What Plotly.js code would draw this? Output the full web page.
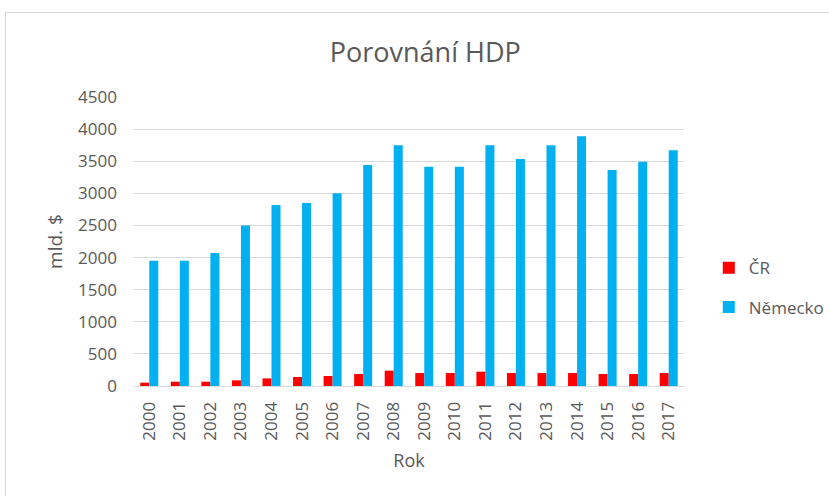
<!DOCTYPE html>
<html>
<head>
<meta charset="utf-8">
<script src="https://cdn.plot.ly/plotly-3.0.1.min.js"></script>
<style>
html,body{margin:0;padding:0;background:#fff;}
#frame{position:absolute;left:5px;top:12px;width:840px;height:500px;border:1px solid #d9d9d9;box-sizing:border-box;}
#chart{position:absolute;left:0;top:0;width:829px;height:496px;}
</style>
</head>
<body>
<div id="frame"></div>
<div id="chart"></div>
<script>
const years = ["2000","2001","2002","2003","2004","2005","2006","2007","2008","2009","2010","2011","2012","2013","2014","2015","2016","2017"];
const cr = [52,67,67,88,119,140,156,187,239,202,202,223,202,202,202,187,187,202];
const nemecko = [1950,1950,2070,2500,2820,2850,3000,3440,3750,3415,3415,3750,3535,3750,3890,3365,3490,3670];
const yTicks = [0,500,1000,1500,2000,2500,3000,3500,4000,4500];

const fontFam = "Open Sans, Liberation Sans, sans-serif";
const data = [
  {type:"bar", name:"ČR", x:years, y:cr, marker:{color:"#FF0000"}, legendgroup:"a"},
  {type:"bar", name:"Německo", x:years, y:nemecko, marker:{color:"#00B0F0"}, legendgroup:"b"}
];
const layout = {
  width:829, height:496,
  paper_bgcolor:"rgba(0,0,0,0)", plot_bgcolor:"rgba(0,0,0,0)",
  margin:{l:134, r:145, t:97, b:110, autoexpand:false},
  barmode:"group", bargap:0.41, bargroupgap:0,
  font:{family:fontFam, color:"#595959", size:17},
  title:{text:"Porovnání HDP", x:0.513, xanchor:"center", y:0.895, yanchor:"middle", font:{size:27, color:"#595959", family:fontFam}},
  xaxis:{type:"category", tickangle:-90, tickfont:{size:17, color:"#595959"}, showgrid:false, zeroline:false,
         showline:true, linecolor:"#d9d9d9", linewidth:1, ticks:"", ticklabelstandoff:8,
         title:{text:"Rok", font:{size:18, color:"#595959"}, standoff:14}},
  yaxis:{range:[0,4500], tickvals:yTicks, ticktext:yTicks.map(String), showgrid:true, gridcolor:"#d9d9d9", gridwidth:1,
         zeroline:false, showline:false, ticks:"", ticklen:0, tickfont:{size:17, color:"#595959"}, ticklabelstandoff:16,
         title:{text:"mld. $", font:{size:19, color:"#595959"}, standoff:10}},
  legend:{xref:"container", x:0.855, y:0.34, xanchor:"left", yanchor:"middle", font:{size:17, color:"#595959"}, traceorder:"grouped", tracegroupgap:14, itemwidth:30},
  showlegend:true
};
Plotly.newPlot("chart", data, layout, {displayModeBar:false, staticPlot:true});
</script>
</body>
</html>
